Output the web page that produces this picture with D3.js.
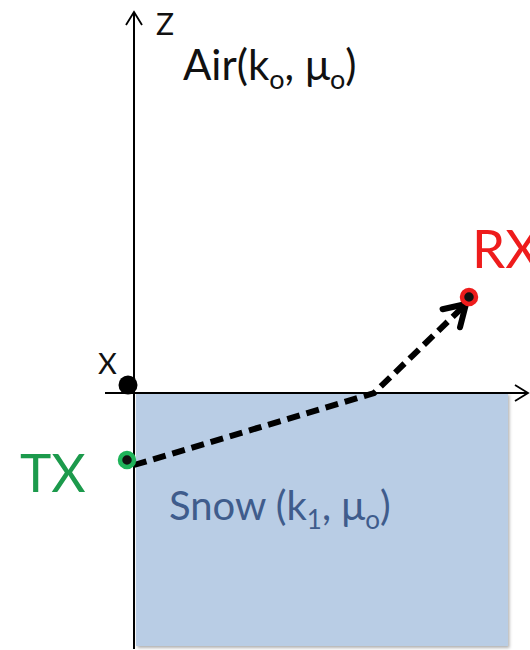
<!DOCTYPE html>
<html>
<head>
<meta charset="utf-8">
<script src="https://cdn.jsdelivr.net/npm/d3@7"></script>
<style>
  body { margin: 0; background: #fff; }
  svg { display: block; }
</style>
</head>
<body>
<svg id="chart" width="530" height="650"></svg>
<script>
// geometry in model units (origin = where the axes cross)
const axisX = [-2.9, 39.4];      // horizontal axis extent
const axisZ = [-25.6, 38.1];     // vertical axis extent
const snowBox = [0.2, 37.4, 0, -25.3]; // x0, x1, z0, z1
const txPoint = [-0.7, -6.7];
const rxPoint = [33.5, 9.6];
const rayPath = [[0, -7.2], [24, 0], [33.2, 8.9]];
const originDot = [-0.6, 0.8];

const labels = [
  { text: 'Z', x: 2.2, z: 35.8, size: 30, color: '#111' },
  { text: 'X', x: -3.6, z: 1.9, size: 29, color: '#111' },
  { text: 'TX', x: -11.4, z: -9.9, size: 53, color: '#1c9a4c' },
  { text: 'RX', x: 33.8, z: 12.5, size: 53, color: '#ee1c1c' }
];

const svg = d3.select('#chart');

const x = d3.scaleLinear().domain([0, 40]).range([134, 534]);
const z = d3.scaleLinear().domain([0, 38]).range([393, 13]);

// soft shadow like the original slide
const defs = svg.append('defs');
const f = defs.append('filter').attr('id', 'shadow')
  .attr('x', '-20%').attr('y', '-20%').attr('width', '140%').attr('height', '140%');
f.append('feDropShadow').attr('dx', 1.5).attr('dy', 2).attr('stdDeviation', 1.5)
  .attr('flood-color', '#000').attr('flood-opacity', 0.3);

// snow block
svg.append('rect')
  .attr('x', x(snowBox[0]))
  .attr('y', z(snowBox[2]))
  .attr('width', x(snowBox[1]) - x(snowBox[0]))
  .attr('height', z(snowBox[3]) - z(snowBox[2]))
  .attr('fill', '#b9cde5')
  .attr('filter', 'url(#shadow)');

// axes
const axisG = svg.append('g').attr('stroke', '#000').attr('fill', 'none').attr('stroke-width', 2);
axisG.append('line')
  .attr('x1', x(0)).attr('x2', x(0))
  .attr('y1', z(axisZ[1])).attr('y2', z(axisZ[0]));
axisG.append('line')
  .attr('x1', x(axisX[0])).attr('x2', x(axisX[1]))
  .attr('y1', z(0)).attr('y2', z(0));
// axis arrow heads (open chevrons)
axisG.append('path')
  .attr('stroke-width', 1.8)
  .attr('d', `M${x(0) - 8},${z(axisZ[1]) + 13} L${x(0)},${z(axisZ[1])} L${x(0) + 8},${z(axisZ[1]) + 13}`);
axisG.append('path')
  .attr('stroke-width', 1.8)
  .attr('d', `M${x(axisX[1]) - 13},${z(0) - 8} L${x(axisX[1])},${z(0)} L${x(axisX[1]) - 13},${z(0) + 8}`);

// dashed ray
const line = d3.line().x(d => x(d[0])).y(d => z(d[1]));
svg.append('path')
  .datum(rayPath)
  .attr('d', line)
  .attr('fill', 'none')
  .attr('stroke', '#000')
  .attr('stroke-width', 6)
  .attr('stroke-dasharray', '13,7');

// arrow head at the end of the ray
const tip = rayPath[rayPath.length - 1];
const prev = rayPath[rayPath.length - 2];
const ang = Math.atan2(z(tip[1]) - z(prev[1]), x(tip[0]) - x(prev[0]));
const hl = 24, spread = 0.55;
const tx0 = x(tip[0]), ty0 = z(tip[1]);
svg.append('path')
  .attr('d', `M${tx0 - hl * Math.cos(ang - spread)},${ty0 - hl * Math.sin(ang - spread)} L${tx0},${ty0} L${tx0 - hl * Math.cos(ang + spread)},${ty0 - hl * Math.sin(ang + spread)}`)
  .attr('fill', 'none')
  .attr('stroke', '#000')
  .attr('stroke-width', 6)
  .attr('stroke-linecap', 'round')
  .attr('stroke-linejoin', 'round');

// origin dot
svg.append('circle')
  .attr('cx', x(originDot[0])).attr('cy', z(originDot[1]))
  .attr('r', 9.5).attr('fill', '#000');

// TX and RX markers
svg.append('circle')
  .attr('cx', x(txPoint[0])).attr('cy', z(txPoint[1]))
  .attr('r', 7).attr('fill', '#111')
  .attr('stroke', '#1fb35a').attr('stroke-width', 4.5);
svg.append('circle')
  .attr('cx', x(rxPoint[0])).attr('cy', z(rxPoint[1]))
  .attr('r', 7).attr('fill', '#111')
  .attr('stroke', '#ee1c1c').attr('stroke-width', 4.5);

// labels
svg.selectAll('text.lbl')
  .data(labels)
  .join('text')
  .attr('class', 'lbl')
  .attr('x', d => x(d.x))
  .attr('y', d => z(d.z))
  .attr('font-family', 'Lato, "Open Sans", sans-serif')
  .attr('font-size', d => d.size)
  .attr('fill', d => d.color)
  .text(d => d.text);

// medium labels with subscripts
const air = svg.append('text')
  .attr('x', 183).attr('y', 80)
  .attr('font-family', 'Lato, "Open Sans", sans-serif')
  .attr('font-size', 42)
  .attr('fill', '#111');
air.append('tspan').text('Air(k');
air.append('tspan').attr('font-size', 27).attr('dy', 9).text('o');
air.append('tspan').attr('dy', -9).text(', μ');
air.append('tspan').attr('font-size', 27).attr('dy', 9).text('o');
air.append('tspan').attr('dy', -9).text(')');

const snow = svg.append('text')
  .attr('x', 169).attr('y', 520)
  .attr('font-family', 'Lato, "Open Sans", sans-serif')
  .attr('font-size', 40)
  .attr('fill', '#3f5c8c');
snow.append('tspan').text('Snow (k');
snow.append('tspan').attr('font-size', 26).attr('dy', 9).text('1');
snow.append('tspan').attr('dy', -9).text(', μ');
snow.append('tspan').attr('font-size', 26).attr('dy', 9).text('o');
snow.append('tspan').attr('dy', -9).text(')');
</script>
</body>
</html>
